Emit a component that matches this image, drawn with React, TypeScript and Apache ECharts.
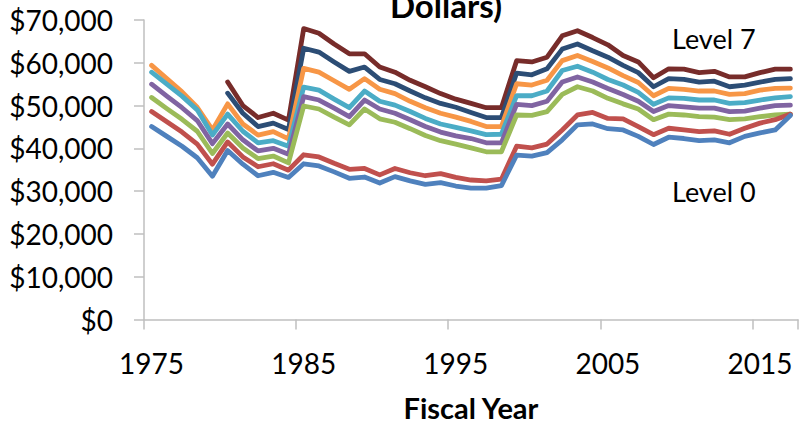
import React, { useEffect, useRef } from "react";
import * as echarts from "echarts";

const years: string[] = [];
for (let y = 1975; y <= 2017; y++) years.push(String(y));

const level0 = [45100,42800,40500,37800,33500,39500,36300,33600,34400,33200,36400,35900,34500,33000,33300,31900,33400,32400,31600,32000,31200,30700,30700,31300,38400,38200,39000,42000,45500,45700,44600,44300,42800,40900,42600,42300,41800,42000,41300,42800,43600,44300,47700];
const level1 = [48600,46200,43800,41000,36300,41500,38000,35700,36400,34900,38500,38000,36500,35100,35300,33800,35300,34300,33600,34100,33200,32600,32400,32800,40500,40100,41000,44300,47800,48400,47000,46900,45100,43200,44700,44300,43900,44100,43300,44700,45900,46700,48000];
const level2 = [51900,49300,46800,44000,38800,43600,40100,37600,38200,36600,49900,49200,47300,45500,49200,46900,46100,44600,43000,41800,41000,40100,39200,39200,47800,47700,48600,52600,54400,53400,51700,50400,49200,46700,48000,47800,47400,47300,46700,46900,47400,47800,48000];
const level3 = [55000,52200,49500,46500,41100,45700,42000,39400,40000,38600,52100,51300,49400,47400,51300,49200,48200,46700,45100,43800,42900,42300,41300,41300,50300,50000,51000,55500,56700,55500,54000,52600,51000,48600,50000,49700,49400,49400,48600,48700,49400,50000,50100];
const level4 = [57800,55000,52200,49000,43100,48000,44000,41300,41800,40500,54300,53600,51500,49500,53400,51000,50100,48600,47000,45700,44900,44100,43200,43300,52300,52300,53400,58200,59200,57800,56100,54800,53100,50300,51800,51700,51300,51300,50500,50700,51300,51800,52100];
const level5 = [59400,56300,53200,49600,44300,50400,45700,43100,43900,42200,58700,57800,55800,53800,56300,53800,52800,51000,49500,48200,47300,46300,45100,45100,55100,54800,55900,60500,61700,60300,58800,57000,55400,52300,54000,53800,53400,53400,52600,52800,53600,54000,54100];
const level6 = [null,null,null,null,null,52900,48200,45100,45900,44400,63400,62500,60200,58000,59000,56100,55100,53400,51800,50500,49600,48400,47200,47200,57600,57200,58600,63200,64400,62800,61300,59400,57700,54400,56300,56100,55500,55700,54400,54800,55500,56100,56300];
const level7 = [null,null,null,null,null,55500,50000,47200,48200,46600,68000,66900,64400,62100,62100,59000,57800,55900,54400,52800,51500,50500,49500,49500,60500,60200,61300,66300,67500,65900,64200,61700,60200,56500,58600,58500,57700,58000,56700,56700,57700,58500,58500];

const seriesNames = ["Level 0","Level 1","Level 2","Level 3","Level 4","Level 5","Level 6","Level 7"];
const seriesData = [level0, level1, level2, level3, level4, level5, level6, level7];
const colors = ["#4F81BD","#C0504D","#9BBB59","#8064A2","#4BACC6","#F79646","#2C4D75","#772C2A"];

const FONT = "Lato, 'Open Sans', sans-serif";

export default function App() {
  const ref = useRef<HTMLDivElement>(null);
  useEffect(() => {
    if (!ref.current) return;
    const chart = echarts.init(ref.current, undefined, { renderer: "svg" });
    const series = seriesNames
      .map((name, i) => ({
        name,
        type: "line" as const,
        data: seriesData[i],
        symbol: "none",
        connectNulls: false,
        lineStyle: { color: colors[i], width: 4.8, cap: "round", join: "round" },
        itemStyle: { color: colors[i] },
      }))
      .reverse();
    chart.setOption({
      animation: false,
      backgroundColor: "#ffffff",
      textStyle: { fontFamily: FONT },
      grid: { left: 144, right: 1, top: 20, height: 304, containLabel: false },
      xAxis: {
        type: "category",
        data: years,
        boundaryGap: true,
        name: "Fiscal Year",
        nameLocation: "middle",
        nameGap: 88,
        nameTextStyle: { fontFamily: FONT, fontSize: 29, fontWeight: "bold", color: "#000", verticalAlign: "middle" },
        axisLine: { lineStyle: { color: "#BFBFBF", width: 1.5 } },
        axisTick: { show: true, interval: 9, length: 10, alignWithLabel: false, lineStyle: { color: "#BFBFBF", width: 1.5 } },
        axisLabel: { interval: 9, margin: 43, fontSize: 28, color: "#000", fontFamily: FONT, verticalAlign: "middle" },
        splitLine: { show: false },
      },
      yAxis: {
        type: "value",
        min: 0,
        max: 70000,
        interval: 10000,
        axisLine: { show: true, lineStyle: { color: "#BFBFBF", width: 1.5 } },
        axisTick: { show: true, length: 10, lineStyle: { color: "#BFBFBF", width: 1.5 } },
        axisLabel: {
          margin: 31,
          fontSize: 28,
          color: "#000",
          fontFamily: FONT,
          formatter: (v: number) => "$" + v.toLocaleString("en-US"),
        },
        splitLine: { show: false },
      },
      graphic: [
        { type: "text", x: 446, y: 5, style: { text: "Dollars)", font: `bold 33px ${FONT}`, fill: "#000", align: "center", verticalAlign: "middle" } },
        { type: "text", x: 672, y: 38, style: { text: "Level 7", font: `27px ${FONT}`, fill: "#000", align: "left", verticalAlign: "middle" } },
        { type: "text", x: 672, y: 191, style: { text: "Level 0", font: `27px ${FONT}`, fill: "#000", align: "left", verticalAlign: "middle" } },
      ],
      series,
    });
    return () => chart.dispose();
  }, []);
  return <div ref={ref} style={{ position: "fixed", left: 0, top: 0, width: 799, height: 427 }} />;
}
